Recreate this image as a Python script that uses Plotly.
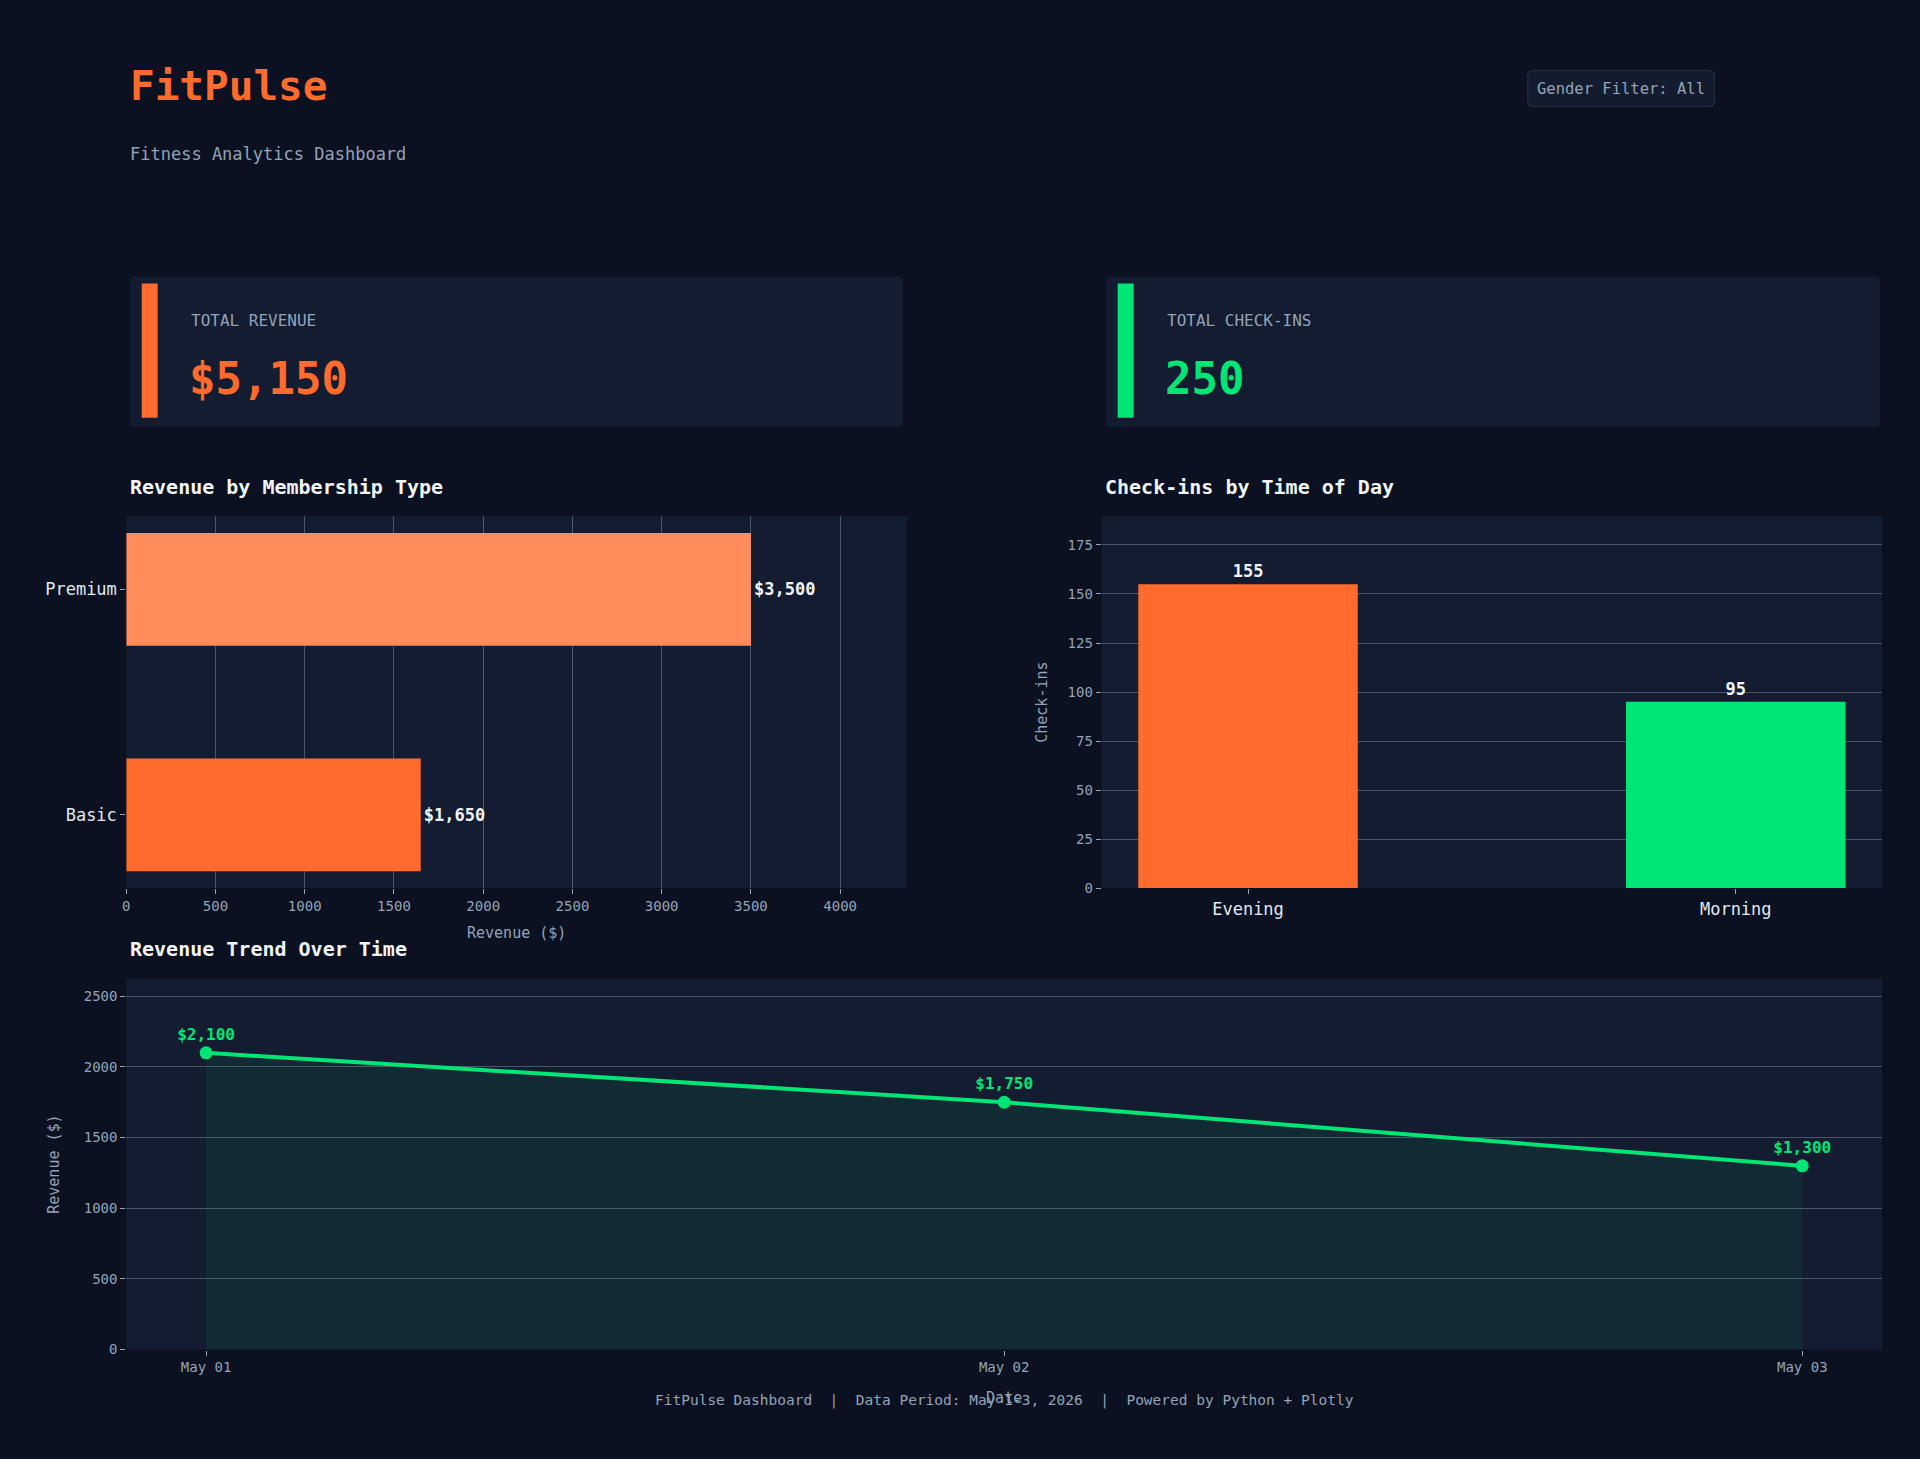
import plotly.graph_objects as go
from plotly.subplots import make_subplots

# data
membership_types = ["Basic", "Premium"]
membership_revenue = [1650, 3500]

time_of_day = ["Evening", "Morning"]
checkins = [155, 95]

trend_dates = ["2026-05-01", "2026-05-02", "2026-05-03"]
trend_revenue = [2100, 1750, 1300]

total_revenue = "$5,150"
total_checkins = "250"

W, H = 1920, 1459
BG = "#0b1120"
CARD = "#131c30"
ORANGE = "#ff6b2c"
ORANGE_LIGHT = "#ff8c5a"
GREEN = "#00e676"
MUTED = "#94a3b8"
GRID = "#4a5568"
FONT = "DejaVu Sans Mono"


def px(x):
    return x / W


def py(y):
    return 1 - y / H


def rounded_rect(x0, y0, x1, y1, r):
    # path in paper coords, radius given in pixels
    rx, ry = r / W, r / H
    a, b, c, d = px(x0), py(y1), px(x1), py(y0)
    return (f"M {a + rx},{b} L {c - rx},{b} Q {c},{b} {c},{b + ry} "
            f"L {c},{d - ry} Q {c},{d} {c - rx},{d} "
            f"L {a + rx},{d} Q {a},{d} {a},{d - ry} "
            f"L {a},{b + ry} Q {a},{b} {a + rx},{b} Z")


def note(x, y, text, size, color, anchor="left"):
    return dict(x=px(x), y=py(y), xref="paper", yref="paper", text=text,
                showarrow=False, xanchor=anchor, yanchor="middle",
                font=dict(size=size, color=color, family=FONT))


fig = make_subplots(rows=2, cols=2, specs=[[{}, {}], [{"colspan": 2}, None]])

fig.add_trace(go.Bar(
    x=membership_revenue, y=membership_types, orientation="h",
    marker=dict(color=[ORANGE, ORANGE_LIGHT], line=dict(width=0)),
    width=0.5, texttemplate="<b>$%{x:,}</b>", textposition="outside",
    textfont=dict(color="#f1f5f9", size=17, family=FONT),
    cliponaxis=False, showlegend=False,
), row=1, col=1)

fig.add_trace(go.Bar(
    x=time_of_day, y=checkins,
    marker=dict(color=[ORANGE, GREEN], line=dict(width=0)),
    width=0.45, texttemplate="<b>%{y}</b>", textposition="outside",
    textfont=dict(color="#f1f5f9", size=17, family=FONT),
    cliponaxis=False, showlegend=False,
), row=1, col=2)

fig.add_trace(go.Scatter(
    x=trend_dates, y=trend_revenue, mode="lines+markers+text",
    line=dict(color=GREEN, width=4), marker=dict(size=13, color=GREEN),
    fill="tozeroy", fillcolor="rgba(0,230,118,0.07)",
    texttemplate="<b>$%{y:,}</b>", textposition="top center",
    textfont=dict(color=GREEN, size=16, family=FONT),
    cliponaxis=False, showlegend=False,
), row=2, col=1)

axis_common = dict(
    showline=False, zeroline=False, gridcolor=GRID, gridwidth=1,
    ticks="outside", ticklen=5, tickcolor=MUTED,
    tickfont=dict(color=MUTED, size=14, family=FONT),
)
cat_font = dict(color="#e2e8f0", size=17, family=FONT)

fig.update_layout(
    xaxis=dict(domain=[px(122.5), px(905)], range=[0, 4375], dtick=500,
               showgrid=True,
               title=dict(text="Revenue ($)", font=dict(color=MUTED, size=15), standoff=14),
               **axis_common),
    yaxis=dict(domain=[py(893), py(519)], range=[-0.325, 1.325], showgrid=False,
               **{**axis_common, "tickfont": cat_font}),
    xaxis2=dict(domain=[px(1100), px(1882)], range=[-0.3, 1.3], showgrid=False,
                **{**axis_common, "tickfont": cat_font}),
    yaxis2=dict(domain=[py(893), py(519)], range=[0, 189.7], dtick=25, showgrid=True,
                title=dict(text="Check-ins", font=dict(color=MUTED, size=15), standoff=16),
                **axis_common),
    xaxis3=dict(domain=[px(122.5), px(1882)], type="date",
                range=["2026-04-30 21:36", "2026-05-03 02:24"],
                dtick=86400000, tickformat="%b %d", showgrid=False,
                title=dict(text="Date", font=dict(color=MUTED, size=15), standoff=18),
                **axis_common),
    yaxis3=dict(domain=[py(1357), py(984)], range=[0, 2625], dtick=500, showgrid=True,
                title=dict(text="Revenue ($)", font=dict(color=MUTED, size=15), standoff=20),
                **axis_common),
)

fig.update_layout(
    width=W, height=H, autosize=False,
    margin=dict(l=0, r=0, t=0, b=0),
    paper_bgcolor=BG, plot_bgcolor=CARD,
    font=dict(family=FONT, color=MUTED),
    showlegend=False,
)

shapes = []
annotations = []

# header
annotations.append(note(124, 86, "<b>FitPulse</b>", 41, ORANGE))
annotations.append(note(124, 155, "Fitness Analytics Dashboard", 17, MUTED))
shapes.append(dict(type="path", xref="paper", yref="paper",
                   path=rounded_rect(1527, 71, 1714, 107, 6),
                   fillcolor="#131c2e", line=dict(color="#1f2a3d", width=1.5)))
annotations.append(note(1620, 89, "Gender Filter: All", 15.5, MUTED, anchor="center"))

# kpi cards
cards = [
    (126, 901, ORANGE, "TOTAL REVENUE", total_revenue),
    (1104, 1880, GREEN, "TOTAL CHECK-INS", total_checkins),
]
for x0, x1, color, label, value in cards:
    shapes.append(dict(type="path", xref="paper", yref="paper",
                       path=rounded_rect(x0, 278, x1, 429, 4),
                       fillcolor=CARD, line=dict(width=0)))
    shapes.append(dict(type="rect", xref="paper", yref="paper",
                       x0=px(x0 + 12), x1=px(x0 + 28), y0=py(420), y1=py(285),
                       fillcolor=color, line=dict(width=0)))
    annotations.append(note(x0 + 59, 322, label, 16, MUTED))
    annotations.append(note(x0 + 57, 381, f"<b>{value}</b>", 44, color))

# section titles
for x, y, text in [(124, 490, "Revenue by Membership Type"),
                   (1101, 490, "Check-ins by Time of Day"),
                   (124, 954, "Revenue Trend Over Time")]:
    annotations.append(note(x, y, f"<b>{text}</b>", 20, "#f1f5f9"))

# footer
annotations.append(note(
    1003, 1408,
    "FitPulse Dashboard  |  Data Period: May 1-3, 2026  |  Powered by Python + Plotly",
    14.5, MUTED, anchor="center"))

fig.update_layout(shapes=shapes, annotations=annotations)

page_js = ("document.documentElement.style.margin='0';"
           "document.documentElement.style.overflow='hidden';"
           "document.body.style.margin='0';"
           "document.body.style.overflow='hidden';"
           "document.body.style.background='#0b1120';")

fig.write_html("out.html", config={"displayModeBar": False}, post_script=page_js)
